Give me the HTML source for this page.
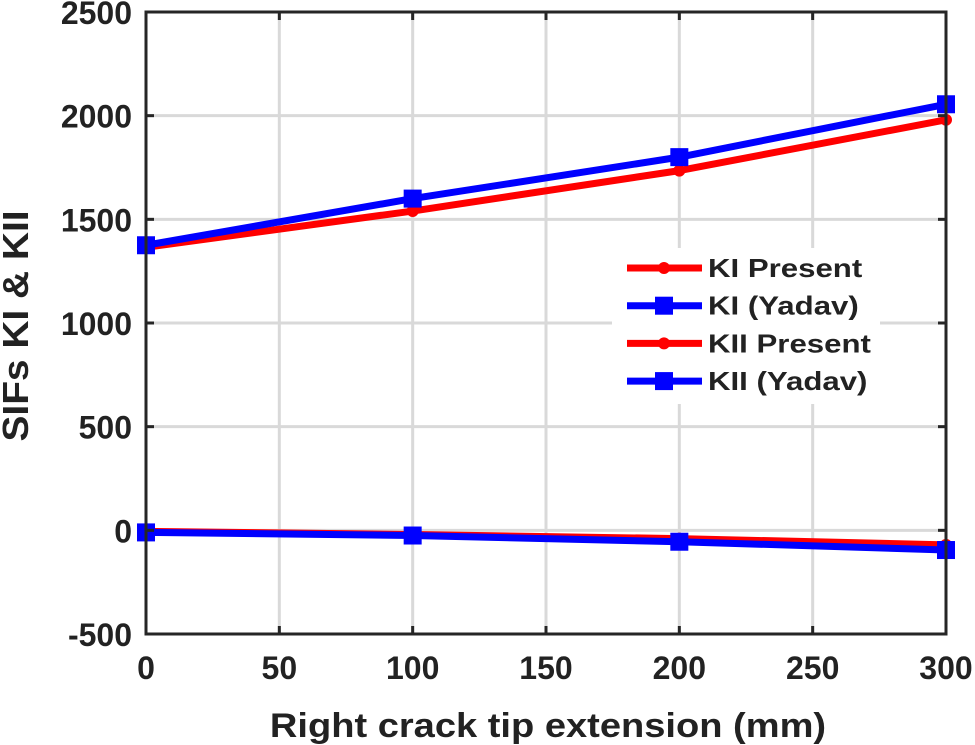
<!DOCTYPE html>
<html><head><meta charset="utf-8"><style>
body{margin:0;background:#fff}
svg{display:block}
text{font-family:"Liberation Sans",Arial,sans-serif;font-weight:bold;fill:#222}
</style></head><body>
<svg id="chart" width="975" height="745"></svg>
<script>
const xValues=[0,100,200,300];
const kiPresent=[1365,1540,1735,1980];
const kiYadav=[1375,1600,1800,2055];
const kiiPresent=[-5,-20,-40,-70];
const kiiYadav=[-10,-25,-55,-95];
const xTicks=[0,50,100,150,200,250,300];
const yTicks=[-500,0,500,1000,1500,2000,2500];
const legendLabels=["KI Present","KI (Yadav)","KII Present","KII (Yadav)"];

const NS="http://www.w3.org/2000/svg";
const svg=document.getElementById('chart');
const L=146,R=946,T=12,B=634;
const sx=v=>L+(v-0)/300*(R-L);
const sy=v=>B-(v+500)/3000*(B-T);
function el(tag,attrs,parent){const e=document.createElementNS(NS,tag);for(const k in attrs)e.setAttribute(k,attrs[k]);(parent||svg).appendChild(e);return e;}

const grid=el('g',{});


xTicks.forEach(t=>{if(t>0&&t<300){const g=el('line',{x1:sx(t),x2:sx(t),y1:T,y2:B,stroke:'#d9d9d9','stroke-width':3},grid);}});
yTicks.forEach(t=>{if(t>-500&&t<2500){const g=el('line',{x1:L,x2:R,y1:sy(t),y2:sy(t),stroke:'#d9d9d9','stroke-width':3},grid);}});

function series(vals,color,marker,name){
  const g=el('g',{});
  
  
  el('polyline',{points:vals.map((v,i)=>sx(xValues[i])+','+sy(v)).join(' '),fill:'none',stroke:color,'stroke-width':7,'stroke-linejoin':'round'},g);
  vals.forEach((v,i)=>{
    let m;
    if(marker==='sq') m=el('rect',{x:sx(xValues[i])-9,y:sy(v)-9,width:18,height:18,fill:color},g);
    else m=el('circle',{cx:sx(xValues[i]),cy:sy(v),r:6,fill:color},g);
    
    
  });
}
series(kiPresent,'#ff0000','c','ki-present-series');
series(kiYadav,'#0000ff','sq','ki-yadav-series');
series(kiiPresent,'#ff0000','c','kii-present-series');
series(kiiYadav,'#0000ff','sq','kii-yadav-series');

const frame=el('rect',{x:L,y:T,width:R-L,height:B-T,fill:'none',stroke:'#262626','stroke-width':3});



xTicks.forEach(t=>{
  el('line',{x1:sx(t),x2:sx(t),y1:B,y2:B-8,stroke:'#262626','stroke-width':3});
  el('line',{x1:sx(t),x2:sx(t),y1:T,y2:T+8,stroke:'#262626','stroke-width':3});
  const tx=el('text',{x:sx(t),y:679,'text-anchor':'middle','font-size':32});
  tx.textContent=String(t);
  
  
});
yTicks.forEach(t=>{
  el('line',{x1:L,x2:L+8,y1:sy(t),y2:sy(t),stroke:'#262626','stroke-width':3});
  el('line',{x1:R,x2:R-8,y1:sy(t),y2:sy(t),stroke:'#262626','stroke-width':3});
  const tx=el('text',{x:L-14,y:sy(t)+12,'text-anchor':'end','font-size':32});
  tx.textContent=String(t);
  
  
});

const xl=el('text',{x:0,y:0,'text-anchor':'middle','font-size':34,transform:'translate(548,737) scale(1.12,1)'});
xl.textContent='Right crack tip extension (mm)';


const yl=el('text',{x:0,y:0,'text-anchor':'middle','font-size':36,transform:'translate(28,326) rotate(-90) scale(1.08,1)'});
yl.textContent='SIFs KI & KII';



const lg=el('g',{});


el('rect',{x:612,y:248,width:268,height:156,fill:'#fff'},lg);
const colors=['#ff0000','#0000ff','#ff0000','#0000ff'];
const marks=['c','sq','c','sq'];
legendLabels.forEach((lab,i)=>{
  const y=268+i*37.7;
  const e=el('g',{},lg);
  
  
  el('line',{x1:627,x2:702,y1:y,y2:y,stroke:colors[i],'stroke-width':7},e);
  if(marks[i]==='sq') el('rect',{x:655,y:y-9,width:18,height:18,fill:colors[i]},e);
  else el('circle',{cx:664,cy:y,r:6,fill:colors[i]},e);
  const t=el('text',{x:0,y:0,'font-size':26,transform:'translate(708,'+(y+9)+') scale(1.2,1)'},e);
  t.textContent=lab;
});
</script>
</body></html>
